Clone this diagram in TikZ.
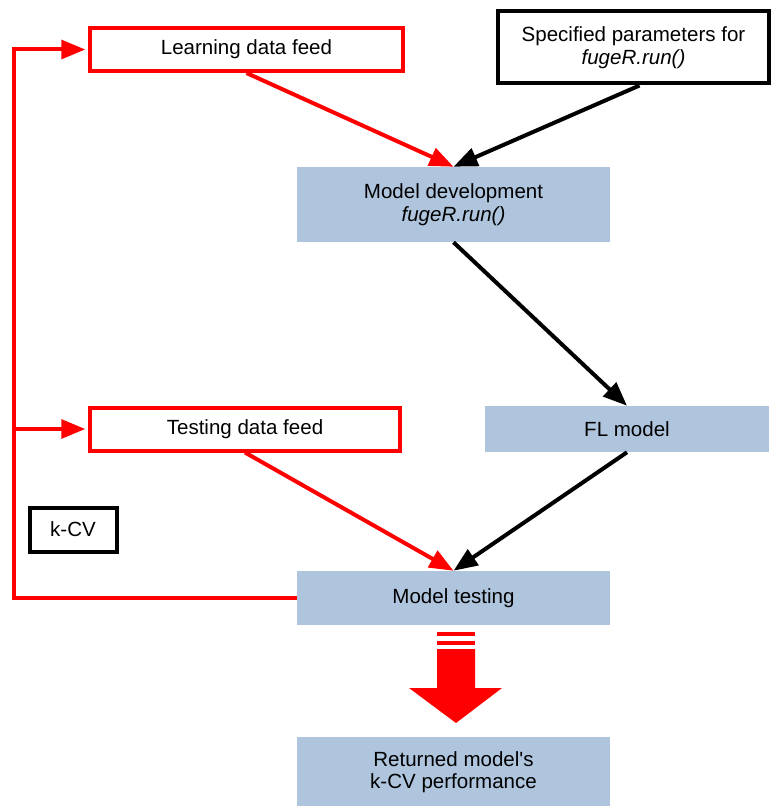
\documentclass[tikz,border=0pt]{standalone}
\usepackage{fontspec}
\setmainfont{Liberation Sans}
\usetikzlibrary{arrows.meta,calc}
\definecolor{boxblue}{RGB}{175,197,222}
\definecolor{pred}{RGB}{255,0,0}
\begin{document}
\begin{tikzpicture}[x=0.75pt,y=-0.75pt,
  every node/.style={font=\fontsize{15.4}{16.8}\selectfont, align=center, inner sep=0pt},
  sz/.style 2 args={minimum width=#1*0.75pt, minimum height=#2*0.75pt},
  redbox/.style={draw=pred, line width=3pt, fill=white},
  blackbox/.style={draw=black, line width=3pt, fill=white},
  bluebox/.style={fill=boxblue, draw=none},
  redarr/.style={draw=pred, line width=3pt, -{Triangle[length=18pt,width=14pt]}},
  blackarr/.style={draw=black, line width=3pt, -{Triangle[length=18pt,width=14pt]}},
  redline/.style={draw=pred, line width=3pt}
]
\useasboundingbox (0,0) rectangle (772,806);

\node[redbox, sz={313}{43}] (learn) at (246.5,49.5) {Learning data feed};
\node[blackbox, sz={271}{72}] (spec) at (633.5,47.5) {Specified parameters for\\\textit{fugeR.run()}};
\node[bluebox, sz={313}{75}] (dev) at (453.5,204.5) {Model development\\\textit{fugeR.run()}};
\node[bluebox, sz={284}{46}] (fl) at (627,429) {FL model};
\node[redbox, sz={310}{43}] (test) at (245,429) {Testing data feed};
\node[blackbox, sz={87}{44}] (kcv) at (73,529.5) {k-CV};
\node[bluebox, sz={313}{54}] (mtest) at (453.5,598) {Model testing};
\node[bluebox, sz={313}{70}] (ret) at (453.5,772) {Returned model\textquotesingle s\\k-CV performance};

\draw[redarr] (learn.south) -- (dev.north);
\draw[blackarr] (spec.south) ++(6,0) -- (dev.north);
\draw[blackarr] (dev.south) -- (fl.north);
\draw[redarr] (test.south) -- (mtest.north);
\draw[blackarr] (fl.south) -- (mtest.north);

\coordinate (lp) at (14,598);
\draw[redline] (mtest.west) -- (lp) -- (lp |- learn.west) -- ++(8,0);
\draw[redarr] ($(lp |- learn.west)+(-1.5,0)$) -- ([xshift=-2pt]learn.west);
\draw[redarr] ($(lp |- test.west)+(-1.5,0)$) -- ([xshift=-2pt]test.west);

% big red arrow
\fill[pred] (437,632) rectangle (475,636);
\fill[pred] (437,641) rectangle (475,645);
\fill[pred] (437,649) -- (475,649) -- (475,688) -- (502,688) -- (456,723) -- (409,688) -- (437,688) -- cycle;
\end{tikzpicture}
\end{document}
